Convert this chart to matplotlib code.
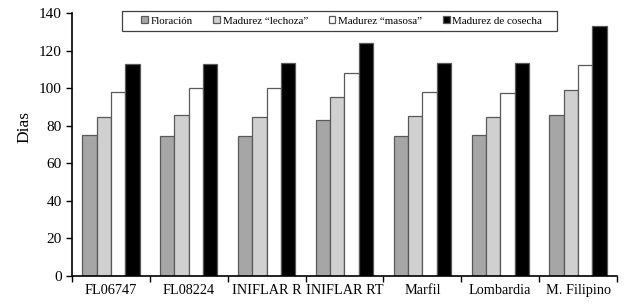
import matplotlib
matplotlib.use("Agg")
import matplotlib.pyplot as plt
from matplotlib.patches import Rectangle
import numpy as np

categories = ["FL06747", "FL08224", "INIFLAR R", "INIFLAR RT", "Marfil", "Lombardia", "M. Filipino"]
series_names = ["Floración", "Madurez \u201clechoza\u201d", "Madurez \u201cmasosa\u201d", "Madurez de cosecha"]
floracion = [75.0, 74.7, 74.7, 83.0, 74.7, 75.0, 85.9]
lechoza = [84.8, 85.5, 84.8, 95.4, 85.0, 84.6, 99.0]
masosa = [97.8, 99.9, 99.9, 107.9, 97.9, 97.4, 112.5]
cosecha = [112.8, 112.8, 113.4, 124.2, 113.4, 113.4, 132.9]
colors = ["#a6a6a6", "#d0d0d0", "#ffffff", "#000000"]
yticks = [0, 20, 40, 60, 80, 100, 120, 140]

plt.rcParams['font.family'] = ['Liberation Serif', 'DejaVu Serif']

fig = plt.figure(figsize=(6.27, 3.08), dpi=100)
ax = fig.add_axes([0.1148, 0.104, 0.8692, 0.854])

x = np.arange(len(categories))
w = 0.184
data = [floracion, lechoza, masosa, cosecha]
for i, (vals, c, name) in enumerate(zip(data, colors, series_names)):
    ax.bar(x + (i - 1.5) * w, vals, width=w, color=c, edgecolor="#595959",
           linewidth=0.9, label=name)

ax.set_xlim(-0.5, len(categories) - 0.5)
ax.set_ylim(0, 140)
ax.set_yticks(yticks)
ax.set_yticklabels([str(v) for v in yticks], fontsize=11)
ax.set_xticks(x)
ax.set_xticklabels(categories, fontsize=10.3)
ax.tick_params(axis='x', which='major', length=0, pad=6)
ax.set_xticks(np.arange(-0.5, len(categories) + 0.5, 1), minor=True)
ax.tick_params(axis='x', which='minor', length=4, width=1, direction='out')
ax.tick_params(axis='y', length=4, width=1, direction='out')
for s in ['top', 'right']:
    ax.spines[s].set_visible(False)
for s in ['left', 'bottom']:
    ax.spines[s].set_linewidth(1.2)
ax.set_ylabel("Dias", fontsize=12.5)
ax.yaxis.set_label_coords(-0.073, 0.566)

# legend frame
x0, y0, bw, bh = 0.0917, 0.9316, 0.798, 0.076
frame = Rectangle((x0, y0), bw, bh, transform=ax.transAxes, facecolor="white",
                  edgecolor="#404040", linewidth=0.9, clip_on=False, zorder=4)
ax.add_patch(frame)
leg = ax.legend(ncol=4, loc='center', bbox_to_anchor=(x0 + bw / 2 + 0.004, y0 + bh / 2), fontsize=7.9,
                frameon=False, handlelength=0.6, handleheight=0.6, handletextpad=0.25,
                columnspacing=1.9, borderpad=0, borderaxespad=0)
leg.set_zorder(5)

fig.savefig("out.png", dpi=100)
